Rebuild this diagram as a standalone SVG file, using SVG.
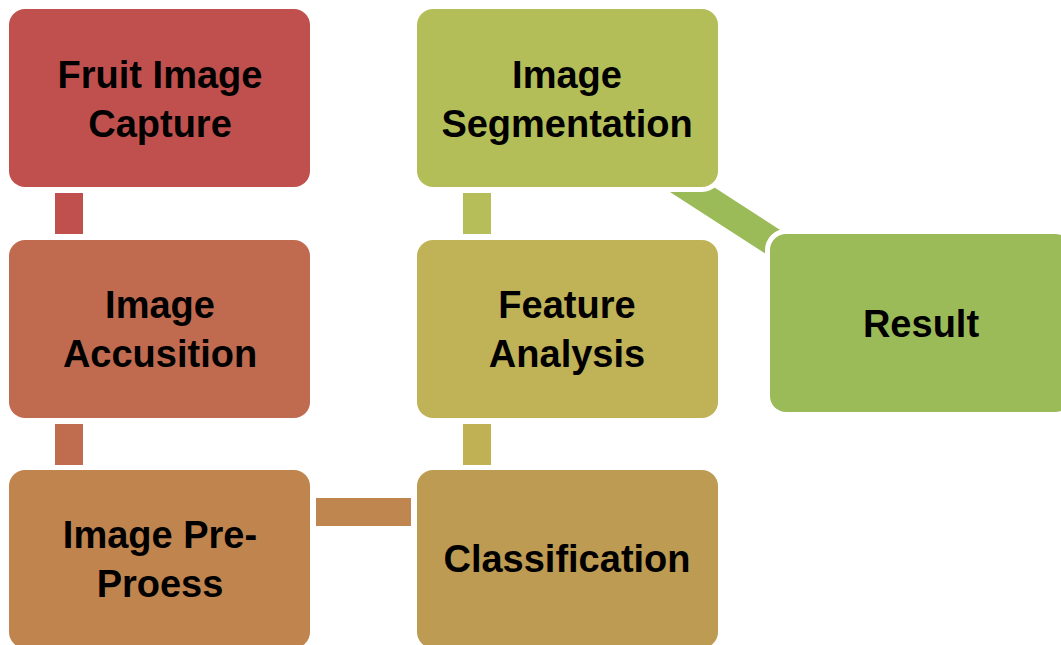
<svg xmlns="http://www.w3.org/2000/svg" width="1061" height="645" viewBox="0 0 1061 645">
<style>
.box{stroke:#fff;stroke-width:10;paint-order:stroke fill}
.t{font-family:"Liberation Sans",Arial,sans-serif;font-weight:bold;font-size:38px;fill:#000;text-anchor:middle}
</style>
<rect width="1061" height="645" fill="#fff"/>
<g id="connectors">
<rect x="55" y="193" width="28" height="41" fill="#C0504D"/>
<rect x="55" y="424" width="28" height="41" fill="#C06C4F"/>
<rect x="316" y="498" width="95" height="28" fill="#C0864F"/>
<rect x="463" y="424" width="28" height="41" fill="#C0B155"/>
<rect x="463" y="193" width="28" height="41" fill="#B5BE58"/>
<line x1="640" y1="156" x2="818" y2="271" stroke="#9BBB59" stroke-width="28"/>
</g>
<g id="n1"><rect class="box" x="9" y="9" width="301" height="178" rx="16" fill="#C0504D"/>
<text class="t" x="160" y="88">Fruit Image</text><text class="t" x="160" y="137">Capture</text></g>
<g id="n2"><rect class="box" x="9" y="240" width="301" height="178" rx="16" fill="#C06B50"/>
<text class="t" x="160" y="318">Image</text><text class="t" x="160" y="367">Accusition</text></g>
<g id="n3"><rect class="box" x="9" y="470" width="301" height="178" rx="16" fill="#C0844F"/>
<text class="t" x="160" y="548">Image Pre-</text><text class="t" x="160" y="597">Proess</text></g>
<g id="n4"><rect class="box" x="417" y="470" width="301" height="178" rx="16" fill="#BE9B52"/>
<text class="t" x="567" y="572">Classification</text></g>
<g id="n5"><rect class="box" x="417" y="240" width="301" height="178" rx="16" fill="#C0B257"/>
<text class="t" x="567" y="318">Feature</text><text class="t" x="567" y="367">Analysis</text></g>
<g id="n6"><rect class="box" x="417" y="9" width="301" height="178" rx="16" fill="#B4BE59"/>
<text class="t" x="567" y="88">Image</text><text class="t" x="567" y="137">Segmentation</text></g>
<g id="n7"><rect class="box" x="770" y="234" width="301" height="178" rx="16" fill="#9BBB59"/>
<text class="t" x="921" y="337">Result</text></g>
</svg>
